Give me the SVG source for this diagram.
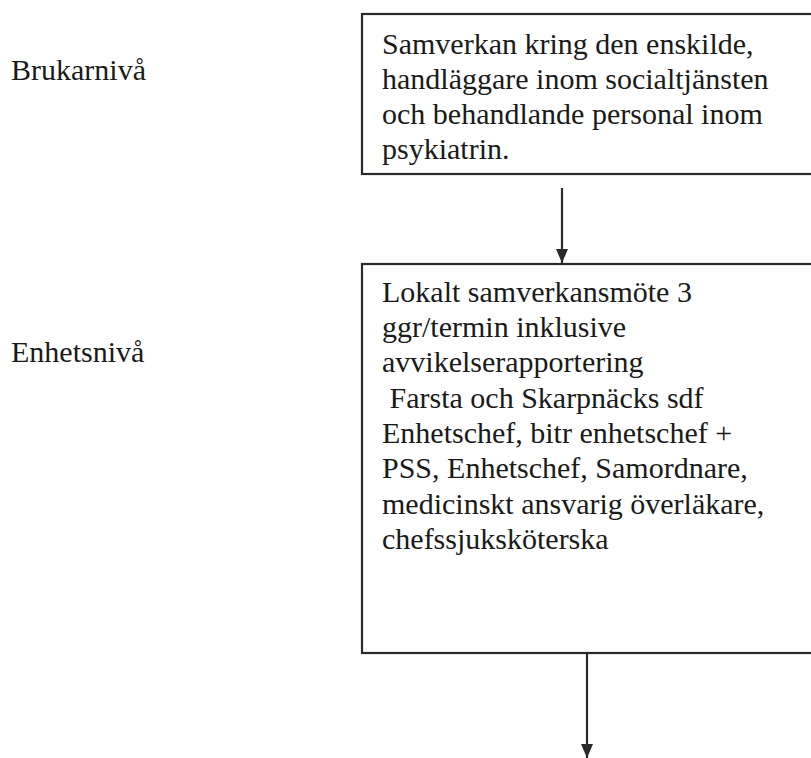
<svg xmlns="http://www.w3.org/2000/svg" width="811" height="758" viewBox="0 0 811 758">
<style>
  .t { font-family: 'Liberation Serif', Tinos, 'Noto Serif', 'DejaVu Serif', 'Times New Roman', Times, serif; font-size: 30px; fill: #1a1a1a; }
  .box { fill: #ffffff; stroke: #2a2a2a; stroke-width: 2.2; }
  .conn { stroke: #2a2a2a; stroke-width: 2.2; fill: none; }
</style>
<defs>
  <marker id="ah" viewBox="0 0 14 12" refX="14" refY="6" markerWidth="14" markerHeight="12" markerUnits="userSpaceOnUse" orient="auto">
    <path d="M0,0 L14,6 L0,12 Z" fill="#2a2a2a"/>
  </marker>
</defs>
<rect width="811" height="758" fill="#ffffff"/>
<g id="label-brukarniva"><text class="t" x="11" y="80">Brukarnivå</text></g>
<g id="label-enhetsniva"><text class="t" x="11" y="362">Enhetsnivå</text></g>
<g id="node-samverkan">
  <rect class="box" x="362" y="14" width="460" height="160"/>
  <text class="t" x="382" y="54">Samverkan kring den enskilde,</text>
  <text class="t" x="382" y="89">handläggare inom socialtjänsten</text>
  <text class="t" x="382" y="124">och behandlande personal inom</text>
  <text class="t" x="382" y="159">psykiatrin.</text>
</g>
<g id="node-lokalt">
  <rect class="box" x="362" y="264" width="460" height="389"/>
  <text class="t" x="382" y="302">Lokalt samverkansmöte 3</text>
  <text class="t" x="382" y="337">ggr/termin inklusive</text>
  <text class="t" x="382" y="372">avvikelserapportering</text>
  <text class="t" x="382" y="408" xml:space="preserve"> Farsta och Skarpnäcks sdf</text>
  <text class="t" x="382" y="443">Enhetschef, bitr enhetschef +</text>
  <text class="t" x="382" y="478">PSS, Enhetschef, Samordnare,</text>
  <text class="t" x="382" y="514">medicinskt ansvarig överläkare,</text>
  <text class="t" x="382" y="549">chefssjuksköterska</text>
</g>
<g id="connectors">
  <line class="conn" x1="562" y1="188" x2="562" y2="263" marker-end="url(#ah)"/>
  <line class="conn" x1="587" y1="654" x2="587" y2="758" marker-end="url(#ah)"/>
</g>
</svg>
